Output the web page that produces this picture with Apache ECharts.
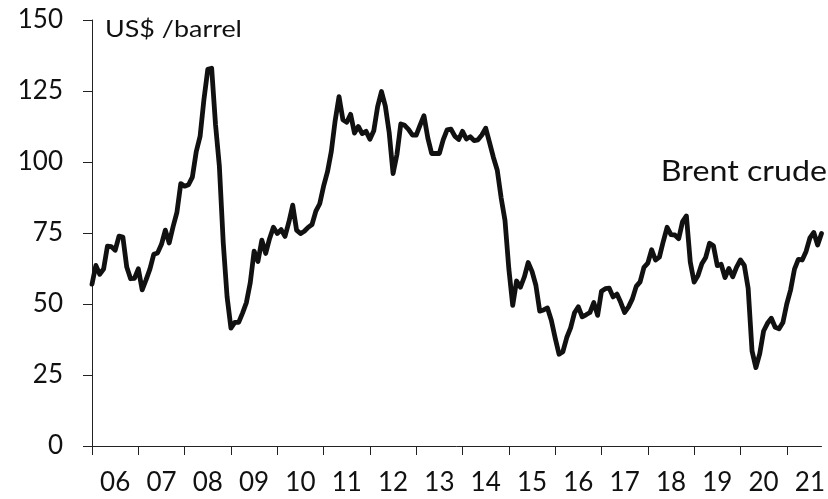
<!DOCTYPE html>
<html>
<head>
<meta charset="utf-8">
<script src="https://cdn.jsdelivr.net/npm/echarts@6/dist/echarts.min.js"></script>
<style>
html,body{margin:0;padding:0;background:#fff;}
#chart{width:828px;height:499px;}
</style>
</head>
<body>
<div id="chart"></div>
<script>
// Monthly Brent crude, US$/barrel (Dec 2005 - Sep 2021)
const d2005 = [57.0];
const d2006 = [63.6, 60.5, 62.3, 70.4, 70.2, 68.9, 73.9, 73.6, 63.0, 58.9, 59.0, 62.4];
const d2007 = [55.0, 58.5, 62.3, 67.5, 68.0, 71.0, 76.0, 71.5, 77.2, 82.3, 92.4, 91.5];
const d2008 = [92.0, 94.7, 103.6, 109.0, 122.0, 132.6, 133.0, 113.2, 98.5, 71.6, 52.5, 41.5];
const d2009 = [43.5, 43.5, 46.8, 50.5, 57.5, 68.6, 65.0, 72.5, 67.8, 73.0, 77.0, 74.8];
const d2010 = [76.2, 73.8, 78.8, 84.8, 76.0, 74.8, 75.6, 77.0, 78.0, 82.7, 85.3, 91.5];
const d2011 = [96.5, 103.7, 114.6, 123.0, 114.9, 114.0, 116.8, 110.2, 112.5, 110.0, 110.8, 108.0];
const d2012 = [111.0, 119.5, 124.8, 119.7, 110.3, 95.9, 102.6, 113.4, 112.9, 111.5, 109.5, 109.5];
const d2013 = [113.0, 116.3, 108.5, 103.0, 103.0, 103.0, 107.9, 111.3, 111.6, 109.1, 107.9, 110.8];
const d2014 = [108.1, 108.9, 107.5, 107.8, 109.5, 111.9, 106.8, 101.6, 97.1, 87.4, 79.4, 62.3];
const d2015 = [49.5, 58.1, 55.9, 59.5, 64.6, 61.5, 56.6, 47.5, 47.9, 48.6, 44.3, 38.0];
const d2016 = [32.3, 33.2, 38.2, 41.6, 46.9, 49.0, 45.5, 46.2, 47.0, 50.5, 46.0, 54.5];
const d2017 = [55.4, 55.6, 52.5, 53.5, 50.5, 47.0, 49.0, 51.8, 56.2, 57.8, 62.9, 64.4];
const d2018 = [69.1, 65.5, 66.5, 72.0, 77.0, 74.4, 74.3, 73.0, 79.0, 81.0, 64.8, 57.7];
const d2019 = [60.0, 64.2, 66.4, 71.4, 70.5, 63.5, 64.0, 59.3, 62.5, 59.6, 63.0, 65.5];
const d2020 = [63.6, 55.5, 33.5, 27.6, 32.5, 40.5, 43.2, 45.0, 41.8, 41.3, 43.5, 50.0];
const d2021 = [55.0, 62.3, 65.7, 65.5, 68.5, 73.3, 75.2, 70.8, 74.8];

const yearBlocks = [
  [2005, d2005, 12], [2006, d2006, 1], [2007, d2007, 1], [2008, d2008, 1], [2009, d2009, 1],
  [2010, d2010, 1], [2011, d2011, 1], [2012, d2012, 1], [2013, d2013, 1], [2014, d2014, 1],
  [2015, d2015, 1], [2016, d2016, 1], [2017, d2017, 1], [2018, d2018, 1], [2019, d2019, 1],
  [2020, d2020, 1], [2021, d2021, 1]
];
const yTicks = [0, 25, 50, 75, 100, 125, 150];
const unitLabel = 'US$ /barrel';
const seriesLabel = 'Brent crude';

const months = [];
const brent = [];
yearBlocks.forEach(([yr, arr, startM]) => {
  arr.forEach((v, i) => {
    const m = startM + i;
    months.push(yr + '-' + (m < 10 ? '0' + m : m));
    brent.push(v);
  });
});

const FONT = 'Lato, "Open Sans", sans-serif';
const chart = echarts.init(document.getElementById('chart'), null, {renderer: 'canvas'});
chart.setOption({
  animation: false,
  backgroundColor: '#ffffff',
  grid: {left: 92, right: 0, top: 20, bottom: 53, containLabel: false},
  xAxis: {
    type: 'category',
    data: months,
    boundaryGap: false,
    axisLine: {show: true, lineStyle: {color: '#222', width: 1}},
    axisTick: {
      show: true, length: 9, inside: false,
      interval: (idx) => idx % 12 === 0,
      lineStyle: {color: '#222', width: 1}
    },
    axisLabel: {
      show: true,
      interval: (idx) => idx % 12 === 6,
      formatter: (val) => val.slice(2, 4),
      fontFamily: FONT, fontSize: 26, color: '#111', margin: 24
    },
    splitLine: {show: false}
  },
  yAxis: {
    type: 'value',
    min: yTicks[0], max: yTicks[yTicks.length - 1], interval: 25,
    axisLine: {show: true, lineStyle: {color: '#222', width: 1}},
    axisTick: {show: true, length: 9, inside: false, lineStyle: {color: '#222', width: 1}},
    axisLabel: {fontFamily: FONT, fontSize: 26, color: '#111', margin: 29},
    splitLine: {show: false}
  },
  series: [{
    name: seriesLabel,
    type: 'line',
    data: brent,
    showSymbol: false,
    symbol: 'none',
    smooth: false,
    lineStyle: {color: '#111', width: 4.8, join: 'round', cap: 'round'}
  }],
  graphic: [
    {type: 'text', x: 105, y: 17, scaleX: 1.12,
     style: {text: unitLabel, font: '24px ' + FONT, fill: '#111', align: 'left', verticalAlign: 'top'}},
    {type: 'text', x: 827, y: 158, scaleX: 1.15,
     style: {text: seriesLabel, font: '28px ' + FONT, fill: '#111', align: 'right', verticalAlign: 'top'}}
  ]
});
</script>
</body>
</html>
